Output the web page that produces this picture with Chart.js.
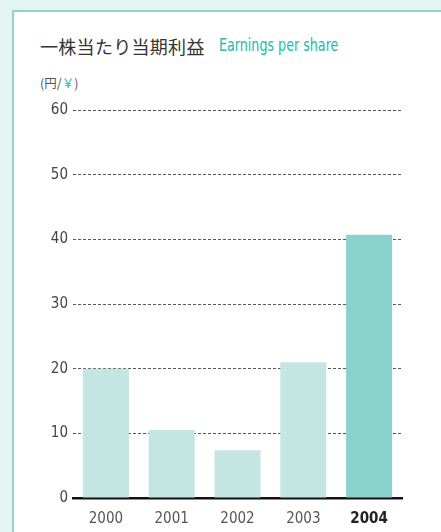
<!DOCTYPE html>
<html><head><meta charset="utf-8">
<script src="https://cdn.jsdelivr.net/npm/chart.js@4/dist/chart.umd.min.js"></script>
<style>
html,body{margin:0;padding:0;width:441px;height:532px;overflow:hidden;background:#e4f4f1;}
#card{position:absolute;left:12px;top:10px;width:440px;height:540px;background:#fff;border-left:2px solid #8fd4cd;border-top:2px solid #8fd4cd;}
#title{position:absolute;left:40px;top:33px;font-family:"Noto Sans CJK JP";font-size:18px;color:#333;white-space:nowrap;line-height:26px;letter-spacing:0.3px;}
#en{position:absolute;left:219px;top:33px;font-family:"DejaVu Sans Condensed","Liberation Sans Narrow",sans-serif;font-size:17px;color:#20bab2;white-space:nowrap;line-height:24px;transform:scaleX(0.83);transform-origin:0 50%;}
#unit{position:absolute;left:40px;top:74px;font-family:"Noto Sans CJK JP";font-size:12.5px;color:#555;white-space:nowrap;line-height:18px;}
#unit span{color:#20bab2;}
#c{position:absolute;left:0;top:0;}
</style></head>
<body>
<div id="card"></div>
<div id="title">一株当たり当期利益</div>
<div id="en">Earnings per share</div>
<div id="unit">(円/<span>￥</span>)</div>
<canvas id="c" width="441" height="532"></canvas>
<script>
const categories = ["2000","2001","2002","2003","2004"];
const eps = [20.0, 10.5, 7.4, 21.0, 40.7];
const yTicks = [0,10,20,30,40,50,60];

const barColors = categories.map((c,i)=> i===categories.length-1 ? "#8bd1cd" : "#c4e6e3");
const fontFam = '"Liberation Sans Narrow","DejaVu Sans Condensed",sans-serif';

new Chart(document.getElementById("c"), {
  type: "bar",
  data: { labels: categories, datasets: [{ data: eps, backgroundColor: barColors, barPercentage: 0.7, categoryPercentage: 1.0 }] },
  options: {
    responsive: false, animation: false,
    layout: { padding: { left: 0, right: 39, top: 110, bottom: 0 } },
    plugins: { legend: { display: false }, tooltip: { enabled: false } },
    scales: {
      x: {
        grid: { display: false },
        border: { display: true, color: "#111", width: 2.5 },
        ticks: { padding: 4, color: (ctx)=> ctx.index===4 ? "#222" : "#555",
                 font: (ctx)=> ({ family: fontFam, size: 15, weight: ctx.index===4 ? "bold" : "normal" }) },
        afterFit: (s)=>{ s.height = 34; }
      },
      y: {
        min: 0, max: 60,
        afterBuildTicks: (s)=>{ s.ticks = yTicks.map(v=>({value:v})); },
        grid: { color: "#555", lineWidth: 1, drawTicks: false },
        border: { display: false, dash: [3,2] },
        ticks: { padding: 5, color: "#444", font: { family: fontFam, size: 15 } },
        afterFit: (s)=>{ s.width = 73; }
      }
    }
  }
});
</script>
</body></html>
